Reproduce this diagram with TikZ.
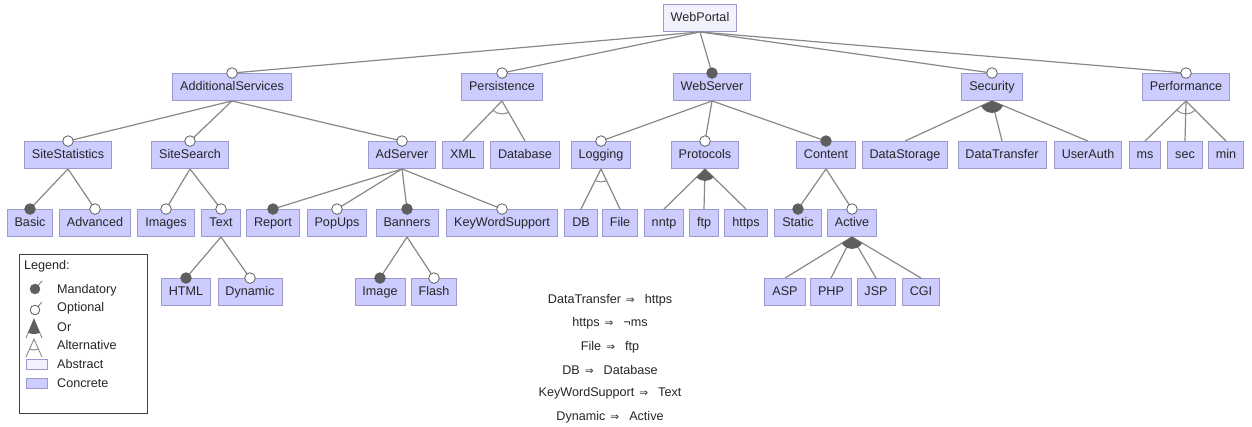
\documentclass[tikz,border=0pt]{standalone}
\usepackage{fontspec}
\setmainfont{Liberation Sans}
\newfontfamily\symfont{DejaVu Sans}
\usetikzlibrary{calc}
\definecolor{concrete}{HTML}{CCCCFF}
\definecolor{abstractc}{HTML}{F2F2FF}
\definecolor{boxline}{HTML}{9A9ACC}
\definecolor{edgec}{HTML}{888888}
\definecolor{mandc}{HTML}{5E5E5E}
\definecolor{txtc}{HTML}{262626}
\tikzset{
  feat/.style={draw=boxline, fill=concrete, line width=0.9pt, inner xsep=7.5pt, inner ysep=0pt,
    minimum height=27pt, text height=8pt, text depth=1pt,
    font=\fontsize{12.6}{14}\selectfont, text=txtc},
  absfeat/.style={feat, fill=abstractc},
  fmedge/.style={draw=edgec, line width=1.2pt},
  mandmark/.style={fill=mandc, draw=mandc, line width=0.8pt},
  optmark/.style={fill=white, draw=mandc, line width=0.8pt},
  ctext/.style={font=\fontsize{12.6}{14}\selectfont, text=txtc, inner sep=0pt},
  legtext/.style={font=\fontsize{12.6}{14}\selectfont, text=txtc, anchor=west, inner sep=0pt},
}
\newcommand{\FMedge}[2]{\draw[fmedge] (#1.south) -- (#2.north);}
\newcommand{\FMmand}[1]{\filldraw[mandmark] (#1.north) circle (5.3pt);}
\newcommand{\FMopt}[1]{\filldraw[optmark] (#1.north) circle (5.3pt);}
\newcommand{\FMor}[3]{\begin{scope}\clip (#1.south) -- (#2.north) -- (#3.north) -- cycle;
  \fill[mandc] (#1.south) circle (12pt);\end{scope}}
\newcommand{\FMalt}[3]{\begin{scope}\clip (#1.south) -- (#2.north) -- (#3.north) -- cycle;
  \draw[edgec, line width=1pt] (#1.south) circle (13pt);\end{scope}}
\newcommand{\impl}{\hspace{5pt}{\symfont\fontsize{10.5}{10}\selectfont ⇒}\hspace{10pt}}
\begin{document}
\begin{tikzpicture}[x=1pt,y=-1pt]
\useasboundingbox (0,0) rectangle (1252,427);
\fill[white] (0,0) rectangle (1252,427);

% row 0
\node[absfeat] (WebPortal) at (700,18) {WebPortal};
% row 1
\node[feat] (AdditionalServices) at (232,87) {AdditionalServices};
\node[feat] (Persistence) at (502,87) {Persistence};
\node[feat] (WebServer) at (712,87) {WebServer};
\node[feat] (Security) at (992,87) {Security};
\node[feat] (Performance) at (1186,87) {Performance};
% row 2
\node[feat] (SiteStatistics) at (68,155) {SiteStatistics};
\node[feat] (SiteSearch) at (190,155) {SiteSearch};
\node[feat] (AdServer) at (402,155) {AdServer};
\node[feat] (XML) at (463,155) {XML};
\node[feat] (Database) at (525,155) {Database};
\node[feat] (Logging) at (601,155) {Logging};
\node[feat] (Protocols) at (705,155) {Protocols};
\node[feat] (Content) at (826,155) {Content};
\node[feat] (DataStorage) at (905,155) {DataStorage};
\node[feat] (DataTransfer) at (1002,155) {DataTransfer};
\node[feat] (UserAuth) at (1088,155) {UserAuth};
\node[feat] (ms) at (1145,155) {ms};
\node[feat] (sec) at (1185,155) {sec};
\node[feat] (min) at (1226,155) {min};
% row 3
\node[feat] (Basic) at (30,223) {Basic};
\node[feat] (Advanced) at (95,223) {Advanced};
\node[feat] (Images) at (166,223) {Images};
\node[feat] (Text) at (221,223) {Text};
\node[feat] (Report) at (273,223) {Report};
\node[feat] (PopUps) at (337,223) {PopUps};
\node[feat] (Banners) at (407,223) {Banners};
\node[feat] (KeyWordSupport) at (502,223) {KeyWordSupport};
\node[feat] (DB) at (581,223) {DB};
\node[feat] (File) at (620,223) {File};
\node[feat] (nntp) at (664,223) {nntp};
\node[feat] (ftp) at (704,223) {ftp};
\node[feat] (https) at (746,223) {https};
\node[feat] (Static) at (798,223) {Static};
\node[feat] (Active) at (852,223) {Active};
% row 4
\node[feat] (HTML) at (186,292) {HTML};
\node[feat] (Dynamic) at (250,292) {Dynamic};
\node[feat] (Image) at (380,292) {Image};
\node[feat] (Flash) at (434,292) {Flash};
\node[feat] (ASP) at (785,292) {ASP};
\node[feat] (PHP) at (831,292) {PHP};
\node[feat] (JSP) at (876,292) {JSP};
\node[feat] (CGI) at (921,292) {CGI};

% edges
\foreach \c in {AdditionalServices,Persistence,WebServer,Security,Performance} {\FMedge{WebPortal}{\c}}
\foreach \c in {SiteStatistics,SiteSearch,AdServer} {\FMedge{AdditionalServices}{\c}}
\foreach \c in {Basic,Advanced} {\FMedge{SiteStatistics}{\c}}
\foreach \c in {Images,Text} {\FMedge{SiteSearch}{\c}}
\foreach \c in {HTML,Dynamic} {\FMedge{Text}{\c}}
\foreach \c in {Report,PopUps,Banners,KeyWordSupport} {\FMedge{AdServer}{\c}}
\foreach \c in {Image,Flash} {\FMedge{Banners}{\c}}
\foreach \c in {XML,Database} {\FMedge{Persistence}{\c}}
\foreach \c in {Logging,Protocols,Content} {\FMedge{WebServer}{\c}}
\foreach \c in {DB,File} {\FMedge{Logging}{\c}}
\foreach \c in {nntp,ftp,https} {\FMedge{Protocols}{\c}}
\foreach \c in {Static,Active} {\FMedge{Content}{\c}}
\foreach \c in {ASP,PHP,JSP,CGI} {\FMedge{Active}{\c}}
\foreach \c in {DataStorage,DataTransfer,UserAuth} {\FMedge{Security}{\c}}
\foreach \c in {ms,sec,min} {\FMedge{Performance}{\c}}

% group decorations
\FMalt{Persistence}{XML}{Database}
\FMalt{Logging}{DB}{File}
\FMalt{Performance}{ms}{min}
\FMor{Protocols}{nntp}{https}
\FMor{Security}{DataStorage}{UserAuth}
\FMor{Active}{ASP}{CGI}

% mandatory / optional marks
\foreach \c in {WebServer,Basic,HTML,Report,Banners,Image,Content,Static} {\FMmand{\c}}
\foreach \c in {AdditionalServices,Persistence,Security,Performance,SiteStatistics,SiteSearch,AdServer,Advanced,Images,Text,Dynamic,PopUps,KeyWordSupport,Flash,Logging,Protocols,Active} {\FMopt{\c}}

% constraints
\node[ctext] (c1) at (610,300) {DataTransfer\impl https};
\node[ctext] (c2) at (610,323) {https\impl ¬ms};
\node[ctext] (c3) at (610,347) {File\impl ftp};
\node[ctext] (c4) at (610,370) {DB\impl Database};
\node[ctext] (c5) at (610,393) {KeyWordSupport\impl Text};
\node[ctext] (c6) at (610,417) {Dynamic\impl Active};

% legend
\draw[draw=black!75, line width=0.9pt] (19,254) rectangle (147,413);
\node[legtext] (lg) at (24,266) {Legend:};
\draw[edgec, line width=0.9pt] (35,289) -- (42,281);
\filldraw[mandmark] (35,289) circle (4.8pt);
\node[legtext] (lgm) at (57,290) {Mandatory};
\draw[edgec, line width=0.9pt] (35,310) -- (42,302);
\filldraw[optmark] (35,310) circle (4.8pt);
\node[legtext] (lgo) at (57,308) {Optional};
\coordinate (orA) at (34,319);
\coordinate (orL) at (26,338);
\coordinate (orR) at (42,338);
\draw[edgec, line width=0.9pt] (orL) -- (orA) -- (orR);
\begin{scope}\clip (orA) -- (orL) -- (orR) -- cycle; \fill[mandc] (orA) circle (15pt);\end{scope}
\node[legtext] (lgor) at (57,327) {Or};
\coordinate (alA) at (34,339);
\coordinate (alL) at (26,357);
\coordinate (alR) at (42,357);
\draw[edgec, line width=0.9pt] (alL) -- (alA) -- (alR);
\begin{scope}\clip (alA) -- (alL) -- (alR) -- cycle; \draw[edgec, line width=0.9pt] (alA) circle (11pt);\end{scope}
\node[legtext] (lgal) at (57,345) {Alternative};
\filldraw[fill=abstractc, draw=boxline, line width=0.8pt] (26,359) rectangle (47,369);
\node[legtext] (lgab) at (57,364) {Abstract};
\filldraw[fill=concrete, draw=boxline, line width=0.8pt] (26,378) rectangle (47,388);
\node[legtext] (lgco) at (57,383) {Concrete};
\end{tikzpicture}
\end{document}
